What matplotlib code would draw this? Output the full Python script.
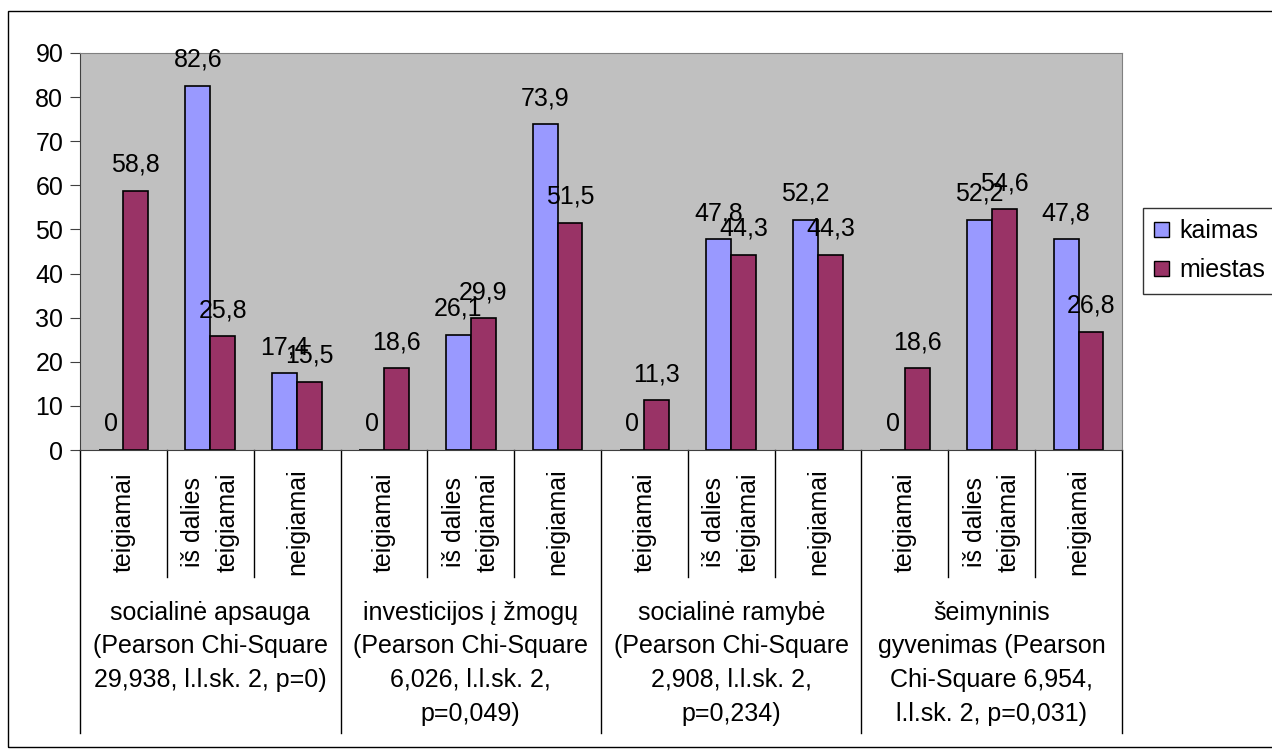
import numpy as np
import matplotlib
matplotlib.use("Agg")
import matplotlib.pyplot as plt
from matplotlib.patches import Rectangle, Patch

plt.rcParams['font.family'] = ['Liberation Sans', 'DejaVu Sans']

# survey answers per area, two groups (village / city), percent
answers = ["teigiamai", "iš dalies\nteigiamai", "neigiamai"] * 4
groups = [
    "socialinė apsauga\n(Pearson Chi-Square\n29,938, l.l.sk. 2, p=0)",
    "investicijos į žmogų\n(Pearson Chi-Square\n6,026, l.l.sk. 2,\np=0,049)",
    "socialinė ramybė\n(Pearson Chi-Square\n2,908, l.l.sk. 2,\np=0,234)",
    "šeimyninis\ngyvenimas (Pearson\nChi-Square 6,954,\nl.l.sk. 2, p=0,031)",
]
kaimas = [0, 82.6, 17.4, 0, 26.1, 73.9, 0, 47.8, 52.2, 0, 52.2, 47.8]
miestas = [58.8, 25.8, 15.5, 18.6, 29.9, 51.5, 11.3, 44.3, 44.3, 18.6, 54.6, 26.8]

W, H = 1272, 753
fig = plt.figure(figsize=(W / 100, H / 100), dpi=100)
fig.patch.set_facecolor('white')

# outer chart frame
fig.patches.append(Rectangle((8 / W, 1 - 747 / H), 1.05, (747 - 11) / H,
                             transform=fig.transFigure, fill=False,
                             edgecolor='black', linewidth=1.0))

left, right, top, bot = 80, 1122, 53, 450
ax = fig.add_axes([left / W, 1 - bot / H, (right - left) / W, (bot - top) / H])
ax.set_facecolor('#C0C0C0')

n = len(kaimas)
x = np.arange(n)
bw = 1 / 3.5
fs = 18

ax.bar(x - bw / 2, kaimas, bw, color='#9999FF', edgecolor='black', linewidth=1.2)
ax.bar(x + bw / 2, miestas, bw, color='#993366', edgecolor='black', linewidth=1.2)

for xs, vals in [(x - bw / 2, kaimas), (x + bw / 2, miestas)]:
    for xi, v in zip(xs, vals):
        ax.annotate(f"{v:g}".replace('.', ','), (xi, v), xytext=(0, 10),
                    textcoords='offset points', ha='center', va='bottom',
                    fontsize=fs)

ax.set_xlim(-0.5, n - 0.5)
ax.set_ylim(0, 90)
ax.set_yticks(np.arange(0, 91, 10))
ax.tick_params(axis='y', labelsize=fs, length=7, pad=5, direction='out',
               color='#404040')
ax.set_xticks([])
for s in ['top', 'right']:
    ax.spines[s].set_color('#808080')
ax.spines['left'].set_color('#404040')
ax.spines['bottom'].set_color('#404040')

# two-level category axis below the plot
ph = bot - top
xt = ax.get_xaxis_transform()
for i in range(n + 1):
    ylow = -(733 - bot) / ph if i % 3 == 0 else -(577 - bot) / ph
    ax.plot([i - 0.5, i - 0.5], [0, ylow], color='black', lw=1,
            transform=xt, clip_on=False)
for i, lab in enumerate(answers):
    ax.text(i, -(522 - bot) / ph, lab, transform=xt, rotation=90,
            ha='center', va='center', multialignment='center', fontsize=fs,
            linespacing=1.55)
for g, lab in enumerate(groups):
    ax.text(3 * g + 1, -(601 - bot) / ph, lab, transform=xt, ha='center',
            va='top', multialignment='center', fontsize=fs, linespacing=1.5)

handles = [Patch(facecolor='#9999FF', edgecolor='black'),
           Patch(facecolor='#993366', edgecolor='black')]
leg = fig.legend(handles, ['kaimas', 'miestas'], loc='upper left',
                 bbox_to_anchor=(1143 / W, 1 - 208 / H), fontsize=fs,
                 frameon=True, fancybox=False, edgecolor='black',
                 handlelength=0.6, handleheight=0.6, handletextpad=0.4,
                 borderpad=0.45, labelspacing=0.6, borderaxespad=0)
leg.get_frame().set_linewidth(1.0)

fig.savefig('out.png', dpi=100)
